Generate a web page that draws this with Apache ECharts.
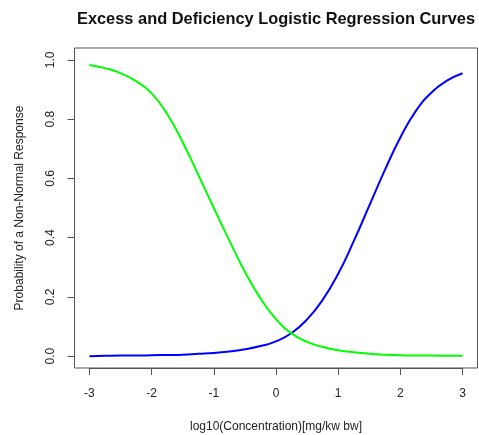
<!DOCTYPE html>
<html>
<head>
<meta charset="utf-8">
<script src="https://cdn.jsdelivr.net/npm/echarts@6/dist/echarts.min.js"></script>
<style>
  html, body { margin: 0; padding: 0; background: #ffffff; }
  #chart { width: 479px; height: 435px; }
</style>
</head>
<body>
<div id="chart"></div>
<script>
// log10 concentration grid (x values)
const logConc = [-3, -2.75, -2.5, -2.25, -2, -1.75, -1.5, -1.25, -1, -0.75, -0.5, -0.25,
                 0, 0.25, 0.5, 0.75, 1, 1.25, 1.5, 1.75, 2, 2.25, 2.5, 2.75, 3];

// Fitted probability of a non-normal response: excess (rising) curve
const excessProb = [0.000, 0.001, 0.002, 0.002, 0.003, 0.004, 0.005, 0.008, 0.011, 0.016, 0.023, 0.034,
                    0.050, 0.078, 0.124, 0.190, 0.278, 0.388, 0.508, 0.628, 0.738, 0.828, 0.890, 0.930, 0.955];

// Fitted probability of a non-normal response: deficiency (falling) curve
const deficiencyProb = [0.983, 0.972, 0.955, 0.928, 0.887, 0.817, 0.722, 0.612, 0.500, 0.390, 0.285, 0.195,
                        0.125, 0.077, 0.048, 0.031, 0.020, 0.013, 0.008, 0.005, 0.003, 0.002, 0.002, 0.001, 0.001];

// Tick ranges and spacing
const xTickMin = -3, xTickMax = 3, xTickStep = 1;
const yTickMin = 0, yTickMax = 1, yTickStep = 0.2;

// Plot box extends 4% beyond the tick range on every side
const padX = 0.04 * (xTickMax - xTickMin);
const padY = 0.04 * (yTickMax - yTickMin);
const X_MIN = xTickMin - padX, X_MAX = xTickMax + padX;
const Y_MIN = yTickMin - padY, Y_MAX = yTickMax + padY;

const W = 479, H = 435;
const BOX = { left: 74.5, right: 1.5, top: 48, bottom: 67 };
const boxW = W - BOX.left - BOX.right;
const boxH = H - BOX.top - BOX.bottom;
// Inset of the tick span inside the box, so the axis rulers line up with the plot scales
const insetX = boxW * padX / (X_MAX - X_MIN);
const insetY = boxH * padY / (Y_MAX - Y_MIN);

const pairs = (xs, ys) => xs.map((x, i) => [x, ys[i]]);

const FONT = '"Liberation Sans", Arial, sans-serif';
const AXIS_COLOR = '#555';
const TEXT_COLOR = '#222';
const chart = echarts.init(document.getElementById('chart'), null, { renderer: 'canvas' });

const hiddenAxis = (gridIndex, min, max) => ({
  type: 'value', gridIndex, min, max, show: false,
  axisLine: { show: false, onZero: false }, axisTick: { show: false },
  axisLabel: { show: false }, splitLine: { show: false }
});

chart.setOption({
  animation: false,
  backgroundColor: '#ffffff',
  title: {
    text: 'Excess and Deficiency Logistic Regression Curves',
    left: 271,
    top: 6,
    textAlign: 'center',
    textStyle: { fontFamily: FONT, fontSize: 16.4, fontWeight: 'bold', color: '#111' }
  },
  grid: [
    // plot box holding the curves
    { left: BOX.left, right: BOX.right, top: BOX.top, bottom: BOX.bottom,
      outerBoundsMode: 'none',
      show: true, borderColor: AXIS_COLOR, borderWidth: 1, backgroundColor: 'transparent' },
    // bottom ruler spanning the x tick range
    { left: BOX.left + insetX, right: BOX.right + insetX, top: BOX.top, bottom: BOX.bottom,
      outerBoundsMode: 'none', show: false },
    // left ruler spanning the y tick range
    { left: BOX.left, right: BOX.right, top: BOX.top + insetY, bottom: BOX.bottom + insetY,
      outerBoundsMode: 'none', show: false }
  ],
  xAxis: [
    hiddenAxis(0, X_MIN, X_MAX),
    {
      type: 'value', gridIndex: 1, position: 'bottom',
      min: xTickMin, max: xTickMax, interval: xTickStep,
      axisLine: { show: true, onZero: false, lineStyle: { color: AXIS_COLOR, width: 1 } },
      axisTick: { show: true, inside: false, length: 7, lineStyle: { color: AXIS_COLOR, width: 1 } },
      splitLine: { show: false },
      axisLabel: {
        margin: 20, fontFamily: FONT, fontSize: 12, color: TEXT_COLOR,
        formatter: v => String(v)
      },
      name: 'log10(Concentration)[mg/kw bw]',
      nameLocation: 'middle',
      nameGap: 53,
      nameTextStyle: { fontFamily: FONT, fontSize: 12, color: TEXT_COLOR }
    },
    hiddenAxis(2, X_MIN, X_MAX)
  ],
  yAxis: [
    hiddenAxis(0, Y_MIN, Y_MAX),
    hiddenAxis(1, Y_MIN, Y_MAX),
    {
      type: 'value', gridIndex: 2, position: 'left',
      min: yTickMin, max: yTickMax, interval: yTickStep,
      axisLine: { show: true, onZero: false, lineStyle: { color: AXIS_COLOR, width: 1 } },
      axisTick: { show: true, inside: false, length: 7, lineStyle: { color: AXIS_COLOR, width: 1 } },
      splitLine: { show: false },
      axisLabel: {
        rotate: 90, margin: 24, align: 'center', verticalAlign: 'middle',
        fontFamily: FONT, fontSize: 12, color: TEXT_COLOR,
        formatter: v => v.toFixed(1)
      },
      name: 'Probability of a Non-Normal Response',
      nameLocation: 'middle',
      nameGap: 49,
      nameRotate: 90,
      nameTextStyle: { fontFamily: FONT, fontSize: 12, color: TEXT_COLOR }
    }
  ],
  series: [
    {
      name: 'Excess',
      type: 'line',
      xAxisIndex: 0, yAxisIndex: 0,
      data: pairs(logConc, excessProb),
      smooth: 0.5,
      showSymbol: false,
      lineStyle: { color: '#0000ff', width: 2 }
    },
    {
      name: 'Deficiency',
      type: 'line',
      xAxisIndex: 0, yAxisIndex: 0,
      data: pairs(logConc, deficiencyProb),
      smooth: 0.5,
      showSymbol: false,
      lineStyle: { color: '#00ff00', width: 2 }
    }
  ]
});
</script>
</body>
</html>
